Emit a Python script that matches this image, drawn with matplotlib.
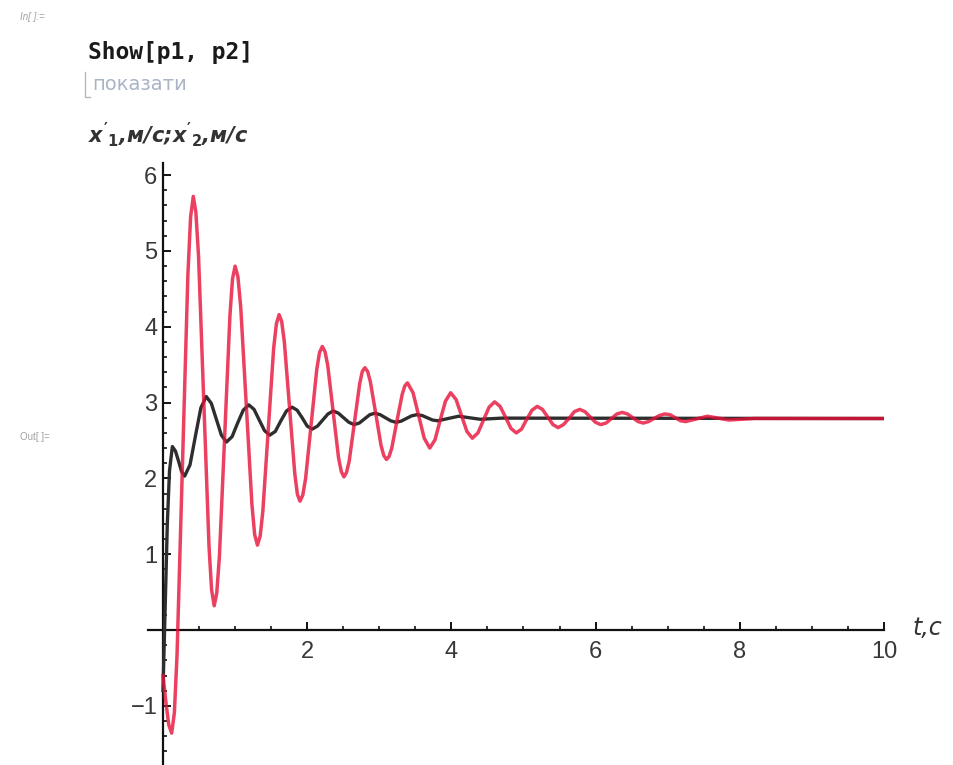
import matplotlib
matplotlib.use("Agg")
import matplotlib.pyplot as plt
from matplotlib.lines import Line2D
from matplotlib.ticker import FixedLocator, FixedFormatter, MultipleLocator

plt.rcParams['font.family'] = ['Liberation Sans', 'DejaVu Sans']
plt.rcParams['mathtext.fontset'] = 'custom'
plt.rcParams['mathtext.it'] = 'DejaVu Sans:italic:bold'
plt.rcParams['mathtext.rm'] = 'DejaVu Sans:bold'

# ---- data ----
t_red = [0.0, 0.04, 0.08, 0.12,
         0.158, 0.195, 0.27, 0.345, 0.383, 0.42,
         0.456, 0.493, 0.565, 0.638, 0.674, 0.71,
         0.746, 0.783, 0.855, 0.928, 0.964, 1.00,
         1.039, 1.078, 1.155, 1.233, 1.271, 1.31,
         1.348, 1.385, 1.46, 1.535, 1.573, 1.61,
         1.646, 1.683, 1.755, 1.828, 1.864, 1.90,
         1.939, 1.978, 2.055, 2.133, 2.171, 2.21,
         2.248, 2.285, 2.36, 2.435, 2.473, 2.51,
         2.546, 2.583, 2.655, 2.728, 2.764, 2.80,
         2.838, 2.875, 2.95, 3.025, 3.063, 3.10,
         3.136, 3.173, 3.245, 3.318, 3.354, 3.39,
         3.468, 3.545, 3.623, 3.70,
         3.773, 3.845, 3.918, 3.99,
         4.065, 4.14, 4.215, 4.29,
         4.368, 4.445, 4.523, 4.60,
         4.675, 4.75, 4.825, 4.90,
         4.973, 5.045, 5.118, 5.19,
         5.263, 5.335, 5.408, 5.48,
         5.555, 5.63, 5.705, 5.78,
         5.853, 5.925, 5.998, 6.07,
         6.145, 6.22, 6.295, 6.37,
         6.443, 6.515, 6.588, 6.66,
         6.735, 6.81, 6.885, 6.96,
         7.033, 7.105, 7.178, 7.25,
         7.40, 7.55, 7.70, 7.85, 8.20, 10.0]
v_red = [-0.60, -0.95, -1.25, -1.36,
         -1.09, -0.32, 2.18, 4.68, 5.45, 5.72,
         5.51, 4.93, 3.02, 1.11, 0.53, 0.32,
         0.49, 0.98, 2.56, 4.14, 4.63, 4.80,
         4.66, 4.26, 2.96, 1.66, 1.26, 1.12,
         1.24, 1.57, 2.64, 3.72, 4.04, 4.16,
         4.07, 3.80, 2.93, 2.06, 1.79, 1.70,
         1.78, 2.00, 2.72, 3.44, 3.66, 3.74,
         3.67, 3.49, 2.88, 2.27, 2.09, 2.02,
         2.08, 2.23, 2.74, 3.25, 3.41, 3.46,
         3.41, 3.28, 2.86, 2.43, 2.30, 2.25,
         2.29, 2.40, 2.76, 3.11, 3.22, 3.26,
         3.13, 2.83, 2.53, 2.40,
         2.51, 2.77, 3.02, 3.13,
         3.04, 2.83, 2.62, 2.53,
         2.60, 2.77, 2.94, 3.01,
         2.95, 2.81, 2.66, 2.60,
         2.65, 2.78, 2.90, 2.95,
         2.91, 2.81, 2.71, 2.67,
         2.71, 2.79, 2.88, 2.91,
         2.88, 2.81, 2.74, 2.71,
         2.73, 2.79, 2.85, 2.87,
         2.85, 2.80, 2.75, 2.73,
         2.75, 2.79, 2.83, 2.85,
         2.84, 2.80, 2.76, 2.75,
         2.785, 2.82, 2.795, 2.77, 2.79, 2.79]

t_black = [0.0, 0.03, 0.06, 0.09, 0.13,
           0.173, 0.215, 0.258, 0.30,
           0.375, 0.45, 0.525, 0.60,
           0.67, 0.74, 0.81, 0.88,
           0.958, 1.035, 1.113, 1.19,
           1.263, 1.335, 1.408, 1.48,
           1.558, 1.635, 1.713, 1.79,
           1.86, 1.93, 2.00, 2.07,
           2.143, 2.215, 2.288, 2.36,
           2.433, 2.505, 2.578, 2.65,
           2.723, 2.795, 2.868, 2.94,
           3.013, 3.085, 3.158, 3.23,
           3.303, 3.375, 3.448, 3.52,
           3.593, 3.665, 3.738, 3.81,
           3.955, 4.10, 4.25, 4.40, 4.70, 10.0]
v_black = [-0.80, 0.30, 1.40, 2.10, 2.42,
           2.36, 2.23, 2.09, 2.03,
           2.18, 2.56, 2.93, 3.08,
           2.99, 2.78, 2.57, 2.48,
           2.55, 2.73, 2.90, 2.97,
           2.91, 2.77, 2.63, 2.57,
           2.62, 2.76, 2.89, 2.94,
           2.90, 2.80, 2.69, 2.65,
           2.69, 2.77, 2.85, 2.89,
           2.86, 2.80, 2.74, 2.71,
           2.73, 2.785, 2.84, 2.86,
           2.84, 2.80, 2.76, 2.74,
           2.755, 2.79, 2.825, 2.84,
           2.83, 2.80, 2.77, 2.76,
           2.79, 2.82, 2.80, 2.78, 2.795, 2.79]

x_ticks = [2, 4, 6, 8, 10]
x_labels = ['2', '4', '6', '8', '10']
y_ticks = [-1, 1, 2, 3, 4, 5, 6]
y_labels = ['\u22121', '1', '2', '3', '4', '5', '6']

# ---- figure ----
W, H = 954, 765
fig = plt.figure(figsize=(W / 100, H / 100), dpi=100)
fig.patch.set_facecolor('white')

ax_left, ax_right, ax_top, ax_bottom = 148, 884, 163, 765
ax = fig.add_axes([ax_left / W, 1 - ax_bottom / H,
                   (ax_right - ax_left) / W, (ax_bottom - ax_top) / H])
ax.set_xlim(-0.208, 10.0)
ax.set_ylim(-1.78, 6.16)
ax.patch.set_alpha(0)

ax.plot(t_black, v_black, color='#2e2e2e', lw=2.4, solid_joinstyle='round', zorder=3)
ax.plot(t_red, v_red, color='#e8103a', lw=2.5, alpha=0.8, solid_joinstyle='round', zorder=4)

for s in ['top', 'right']:
    ax.spines[s].set_visible(False)
ax.spines['left'].set_position(('data', 0))
ax.spines['bottom'].set_position(('data', 0))
for s in ['left', 'bottom']:
    ax.spines[s].set_color('#111111')
    ax.spines[s].set_linewidth(1.6)
    ax.spines[s].set_zorder(2)

ax.xaxis.set_major_locator(FixedLocator(x_ticks))
ax.xaxis.set_major_formatter(FixedFormatter(x_labels))
ax.xaxis.set_minor_locator(MultipleLocator(0.5))
ax.yaxis.set_major_locator(FixedLocator(y_ticks))
ax.yaxis.set_major_formatter(FixedFormatter(y_labels))
ax.yaxis.set_minor_locator(MultipleLocator(0.2))

ax.tick_params(axis='both', which='major', direction='in', length=6, width=1.4,
               color='#111111', labelsize=17, labelcolor='#383838')
ax.tick_params(axis='both', which='minor', direction='in', length=3, width=1.2,
               color='#111111')
ax.tick_params(axis='x', which='major', pad=8)
ax.tick_params(axis='y', which='major', pad=4)

# ---- notebook texts ----
fig.text(20 / W, 1 - 17 / H, 'In[ ]:=', fontsize=7, color='#a0a0a0',
         style='italic', va='center', ha='left')
fig.text(88 / W, 1 - 52 / H, 'Show[p1, p2]', fontsize=16.5, color='#1a1a1a',
         family='DejaVu Sans Mono', fontweight='bold', va='center', ha='left')
fig.text(92 / W, 1 - 85 / H, 'показати', fontsize=14, color='#a9b4c6',
         va='center', ha='left', family='DejaVu Sans')
fig.add_artist(Line2D([85 / W, 85 / W, 90 / W], [1 - 72 / H, 1 - 97 / H, 1 - 97 / H],
                      color='#b8b8b8', lw=1.0))
fig.text(88 / W, 1 - 135 / H, "$x'_1$,м/с;$x'_2$,м/с", fontsize=15,
         color='#333333', style='italic', fontweight='bold', va='center', ha='left',
         family='DejaVu Sans')
fig.text(20 / W, 1 - 437 / H, 'Out[ ]=', fontsize=7, color='#a0a0a0',
         va='center', ha='left')
fig.text(912 / W, 1 - 628 / H, 't,c', fontsize=17, color='#333333',
         style='italic', va='center', ha='left', family='DejaVu Sans')

fig.savefig('out.png', dpi=100, facecolor='white')
